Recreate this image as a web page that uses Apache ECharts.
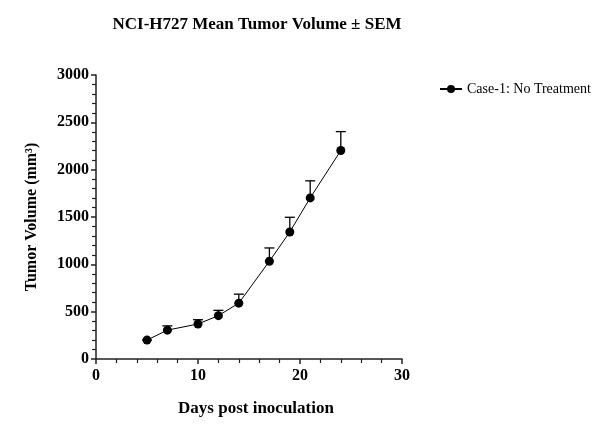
<!DOCTYPE html>
<html><head><meta charset="utf-8">
<script src="https://cdn.jsdelivr.net/npm/echarts@6/dist/echarts.min.js"></script>
<style>html,body{margin:0;padding:0;background:#fff}#c{width:605px;height:448px}</style>
</head><body><div id="c"></div>
<script>
var days = [5, 7, 10, 12, 14, 17, 19, 21, 24];
var meanVol = [200, 305, 370, 458, 590, 1033, 1342, 1702, 2202];
var sem = [0, 45, 45, 56, 95, 140, 155, 180, 200];
var seriesName = 'Case-1: No Treatment';

var font = '"Liberation Serif", "Times New Roman", serif';
var chart = echarts.init(document.getElementById('c'));
var pts = days.map(function(d, i){ return [d, meanVol[i]]; });
var errs = days.map(function(d, i){ return [d, meanVol[i], meanVol[i] + sem[i]]; });

chart.setOption({
  animation: false,
  title: {
    text: 'NCI-H727 Mean Tumor Volume ± SEM',
    left: 252, top: 11, textAlign: 'center',
    textStyle: {fontFamily: font, fontWeight: 'bold', fontSize: 17, color: '#000'}
  },
  legend: {
    left: 434, top: 77, itemWidth: 22, itemHeight: 10, itemGap: 8,
    data: [seriesName],
    textStyle: {fontFamily: font, fontSize: 14, color: '#000'}
  },
  grid: {left: 96, right: 203, top: 75, bottom: 89},
  xAxis: {
    type: 'value', min: 0, max: 30, interval: 10,
    name: 'Days post inoculation', nameLocation: 'middle', nameGap: 41,
    nameTextStyle: {fontFamily: font, fontWeight: 'bold', fontSize: 17, color: '#000', padding: [0, 0, 0, 14]},
    axisLine: {show: true, lineStyle: {color: '#222', width: 1.5}},
    axisTick: {show: true, length: 5, lineStyle: {color: '#222', width: 1.5}},
    minorTick: {show: true, splitNumber: 5, length: 4, lineStyle: {color: '#222', width: 1.2}},
    axisLabel: {fontFamily: font, fontWeight: 'bold', fontSize: 16, color: '#000', margin: 9},
    splitLine: {show: false}
  },
  yAxis: {
    type: 'value', min: 0, max: 3000, interval: 500,
    name: 'Tumor Volume (mm³)', nameLocation: 'middle', nameGap: 56,
    nameTextStyle: {fontFamily: font, fontWeight: 'bold', fontSize: 16, color: '#000'},
    axisLine: {show: true, lineStyle: {color: '#222', width: 1.5}},
    axisTick: {show: true, length: 5, lineStyle: {color: '#222', width: 1.5}},
    minorTick: {show: true, splitNumber: 5, length: 4, lineStyle: {color: '#222', width: 1.2}},
    axisLabel: {fontFamily: font, fontWeight: 'bold', fontSize: 16, color: '#000', margin: 7,
      formatter: function(v){ return String(v); }},
    splitLine: {show: false}
  },
  series: [
    {
      name: seriesName, type: 'line', data: pts,
      symbol: 'circle', symbolSize: 9,
      lineStyle: {color: '#000', width: 1},
      itemStyle: {color: '#000'},
      z: 3
    },
    {
      type: 'custom', data: errs, z: 2,
      renderItem: function(params, api){
        var x = api.value(0);
        var lo = api.coord([x, api.value(1)]);
        var hi = api.coord([x, api.value(2)]);
        var s = {stroke: '#000', lineWidth: 1.3};
        return {type: 'group', children: [
          {type: 'line', shape: {x1: lo[0], y1: lo[1], x2: hi[0], y2: hi[1]}, style: s},
          {type: 'line', shape: {x1: hi[0]-5, y1: hi[1], x2: hi[0]+5, y2: hi[1]}, style: s}
        ]};
      }
    }
  ]
});
</script></body></html>
